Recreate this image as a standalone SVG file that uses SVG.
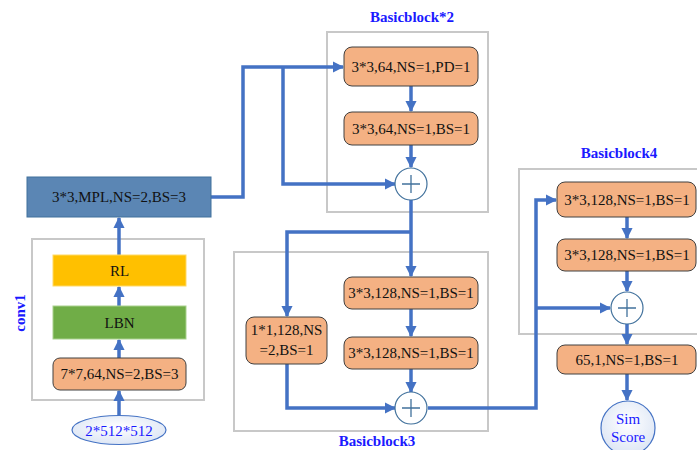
<svg xmlns="http://www.w3.org/2000/svg" width="697" height="450" viewBox="0 0 697 450">
<defs>
<style>
.frame{fill:#fff;stroke:#c8c8c8;stroke-width:2}
.op{fill:#f4b183;stroke:#404040;stroke-width:1}
.t{font-family:"Liberation Serif",serif;font-size:15px;fill:#111;text-anchor:middle;dominant-baseline:central}
.lbl{font-family:"Liberation Serif",serif;font-size:15px;font-weight:bold;fill:#1a1aff;text-anchor:middle;dominant-baseline:central}
.c{fill:none;stroke:#4472c4;stroke-width:3.5}
.sum{fill:#fff;stroke:#41719c;stroke-width:1.2}
.plus{stroke:#41719c;stroke-width:1.3}
</style>
<marker id="ah" viewBox="0 0 10 10" refX="9" refY="5" markerWidth="3.2" markerHeight="3.2" orient="auto" markerUnits="strokeWidth">
<path d="M0,0 L10,5 L0,10 z" fill="#4472c4"/>
</marker>
<radialGradient id="g" cx="50%" cy="40%" r="60%">
<stop offset="0" stop-color="#ffffff"/>
<stop offset="1" stop-color="#dde6f5"/>
</radialGradient>
</defs>
<rect width="697" height="450" fill="#fff"/>
<g id="frames">
<rect class="frame" x="32" y="239" width="172" height="161"/>
<rect class="frame" x="327" y="32" width="161" height="180"/>
<rect class="frame" x="234" y="252" width="254" height="179"/>
<rect class="frame" x="519" y="169" width="190" height="165"/>
</g>
<g id="labels">
<text class="lbl" x="20" y="313" transform="rotate(-90 20 313)">conv1</text>
<text class="lbl" x="412" y="17">Basicblock*2</text>
<text class="lbl" x="377" y="441">Basicblock3</text>
<text class="lbl" x="619" y="153">Basicblock4</text>
</g>
<g id="connectors">
<line class="c" x1="119" y1="416" x2="119" y2="391" marker-end="url(#ah)"/>
<line class="c" x1="119" y1="358" x2="119" y2="340" marker-end="url(#ah)"/>
<line class="c" x1="119" y1="306" x2="119" y2="287" marker-end="url(#ah)"/>
<line class="c" x1="119" y1="255" x2="119" y2="218" marker-end="url(#ah)"/>
<polyline class="c" points="211,197 243,197 243,67 343,67" marker-end="url(#ah)"/>
<polyline class="c" points="283,67 283,184 395,184" marker-end="url(#ah)"/>
<line class="c" x1="411" y1="86" x2="411" y2="111" marker-end="url(#ah)"/>
<line class="c" x1="411" y1="145" x2="411" y2="167" marker-end="url(#ah)"/>
<line class="c" x1="411" y1="200" x2="411" y2="276" marker-end="url(#ah)"/>
<polyline class="c" points="411,232 287,232 287,316" marker-end="url(#ah)"/>
<line class="c" x1="411" y1="309" x2="411" y2="336" marker-end="url(#ah)"/>
<line class="c" x1="411" y1="369" x2="411" y2="392" marker-end="url(#ah)"/>
<polyline class="c" points="287,364 287,408 395,408" marker-end="url(#ah)"/>
<polyline class="c" points="428,408 536,408 536,200 556,200" marker-end="url(#ah)"/>
<polyline class="c" points="536,308 610,308" marker-end="url(#ah)"/>
<line class="c" x1="627" y1="217" x2="627" y2="238" marker-end="url(#ah)"/>
<line class="c" x1="627" y1="271" x2="627" y2="291" marker-end="url(#ah)"/>
<line class="c" x1="627" y1="324" x2="627" y2="344" marker-end="url(#ah)"/>
<line class="c" x1="627" y1="374" x2="627" y2="400" marker-end="url(#ah)"/>
</g>
<g id="input">
<ellipse cx="119" cy="430" rx="47" ry="14.5" fill="url(#g)" stroke="#4472c4" stroke-width="1.2"/>
<text class="t" x="119" y="431" style="fill:#1a1aff">2*512*512</text>
</g>
<g id="conv7">
<rect class="op" x="53" y="358" width="133" height="32" rx="7"/>
<text class="t" x="119.5" y="374">7*7,64,NS=2,BS=3</text>
</g>
<g id="lbn">
<rect x="53" y="306" width="133" height="33" fill="#70ad47" stroke="#a9d18e" stroke-width="1"/>
<text class="t" x="119.5" y="322.5">LBN</text>
</g>
<g id="rl">
<rect x="53" y="255" width="133" height="31" fill="#ffc000" stroke="#ffd966" stroke-width="1"/>
<text class="t" x="119.5" y="270.5">RL</text>
</g>
<g id="mpl">
<rect x="27" y="177" width="184" height="40" fill="#5b86b4" stroke="#41719c" stroke-width="1"/>
<text class="t" x="119" y="197">3*3,MPL,NS=2,BS=3</text>
</g>
<g id="b2a">
<rect class="op" x="344" y="47" width="134" height="39" rx="8"/>
<text class="t" x="411" y="66.5">3*3,64,NS=1,PD=1</text>
</g>
<g id="b2b">
<rect class="op" x="344" y="112" width="134" height="33" rx="8"/>
<text class="t" x="411" y="128.5">3*3,64,NS=1,BS=1</text>
</g>
<g id="sum2">
<circle class="sum" cx="411" cy="184" r="16"/>
<path class="plus" d="M402,184 H420 M411,175 V193"/>
</g>
<g id="b3a">
<rect class="op" x="344" y="277" width="134" height="32" rx="8"/>
<text class="t" x="411" y="293">3*3,128,NS=1,BS=1</text>
</g>
<g id="b3b">
<rect class="op" x="344" y="337" width="134" height="32" rx="8"/>
<text class="t" x="411" y="353">3*3,128,NS=1,BS=1</text>
</g>
<g id="b3s">
<rect class="op" x="246" y="317" width="81" height="47" rx="8"/>
<text class="t" x="286.5" y="330">1*1,128,NS</text>
<text class="t" x="286.5" y="350">=2,BS=1</text>
</g>
<g id="sum3">
<circle class="sum" cx="411" cy="408" r="16"/>
<path class="plus" d="M402,408 H420 M411,399 V417"/>
</g>
<g id="b4a">
<rect class="op" x="557" y="182" width="139" height="35" rx="8"/>
<text class="t" x="627" y="199.5">3*3,128,NS=1,BS=1</text>
</g>
<g id="b4b">
<rect class="op" x="557" y="239" width="139" height="32" rx="8"/>
<text class="t" x="627" y="255">3*3,128,NS=1,BS=1</text>
</g>
<g id="sum4">
<circle class="sum" cx="627" cy="308" r="16"/>
<path class="plus" d="M618,308 H636 M627,299 V317"/>
</g>
<g id="fc">
<rect class="op" x="557" y="345" width="139" height="29" rx="8"/>
<text class="t" x="627" y="359.5">65,1,NS=1,BS=1</text>
</g>
<g id="sim">
<circle cx="628" cy="428" r="27" fill="url(#g)" stroke="#4472c4" stroke-width="1.2"/>
<text class="t" x="628" y="419" style="fill:#1a1aff">Sim</text>
<text class="t" x="628" y="437" style="fill:#1a1aff">Score</text>
</g>
</svg>
